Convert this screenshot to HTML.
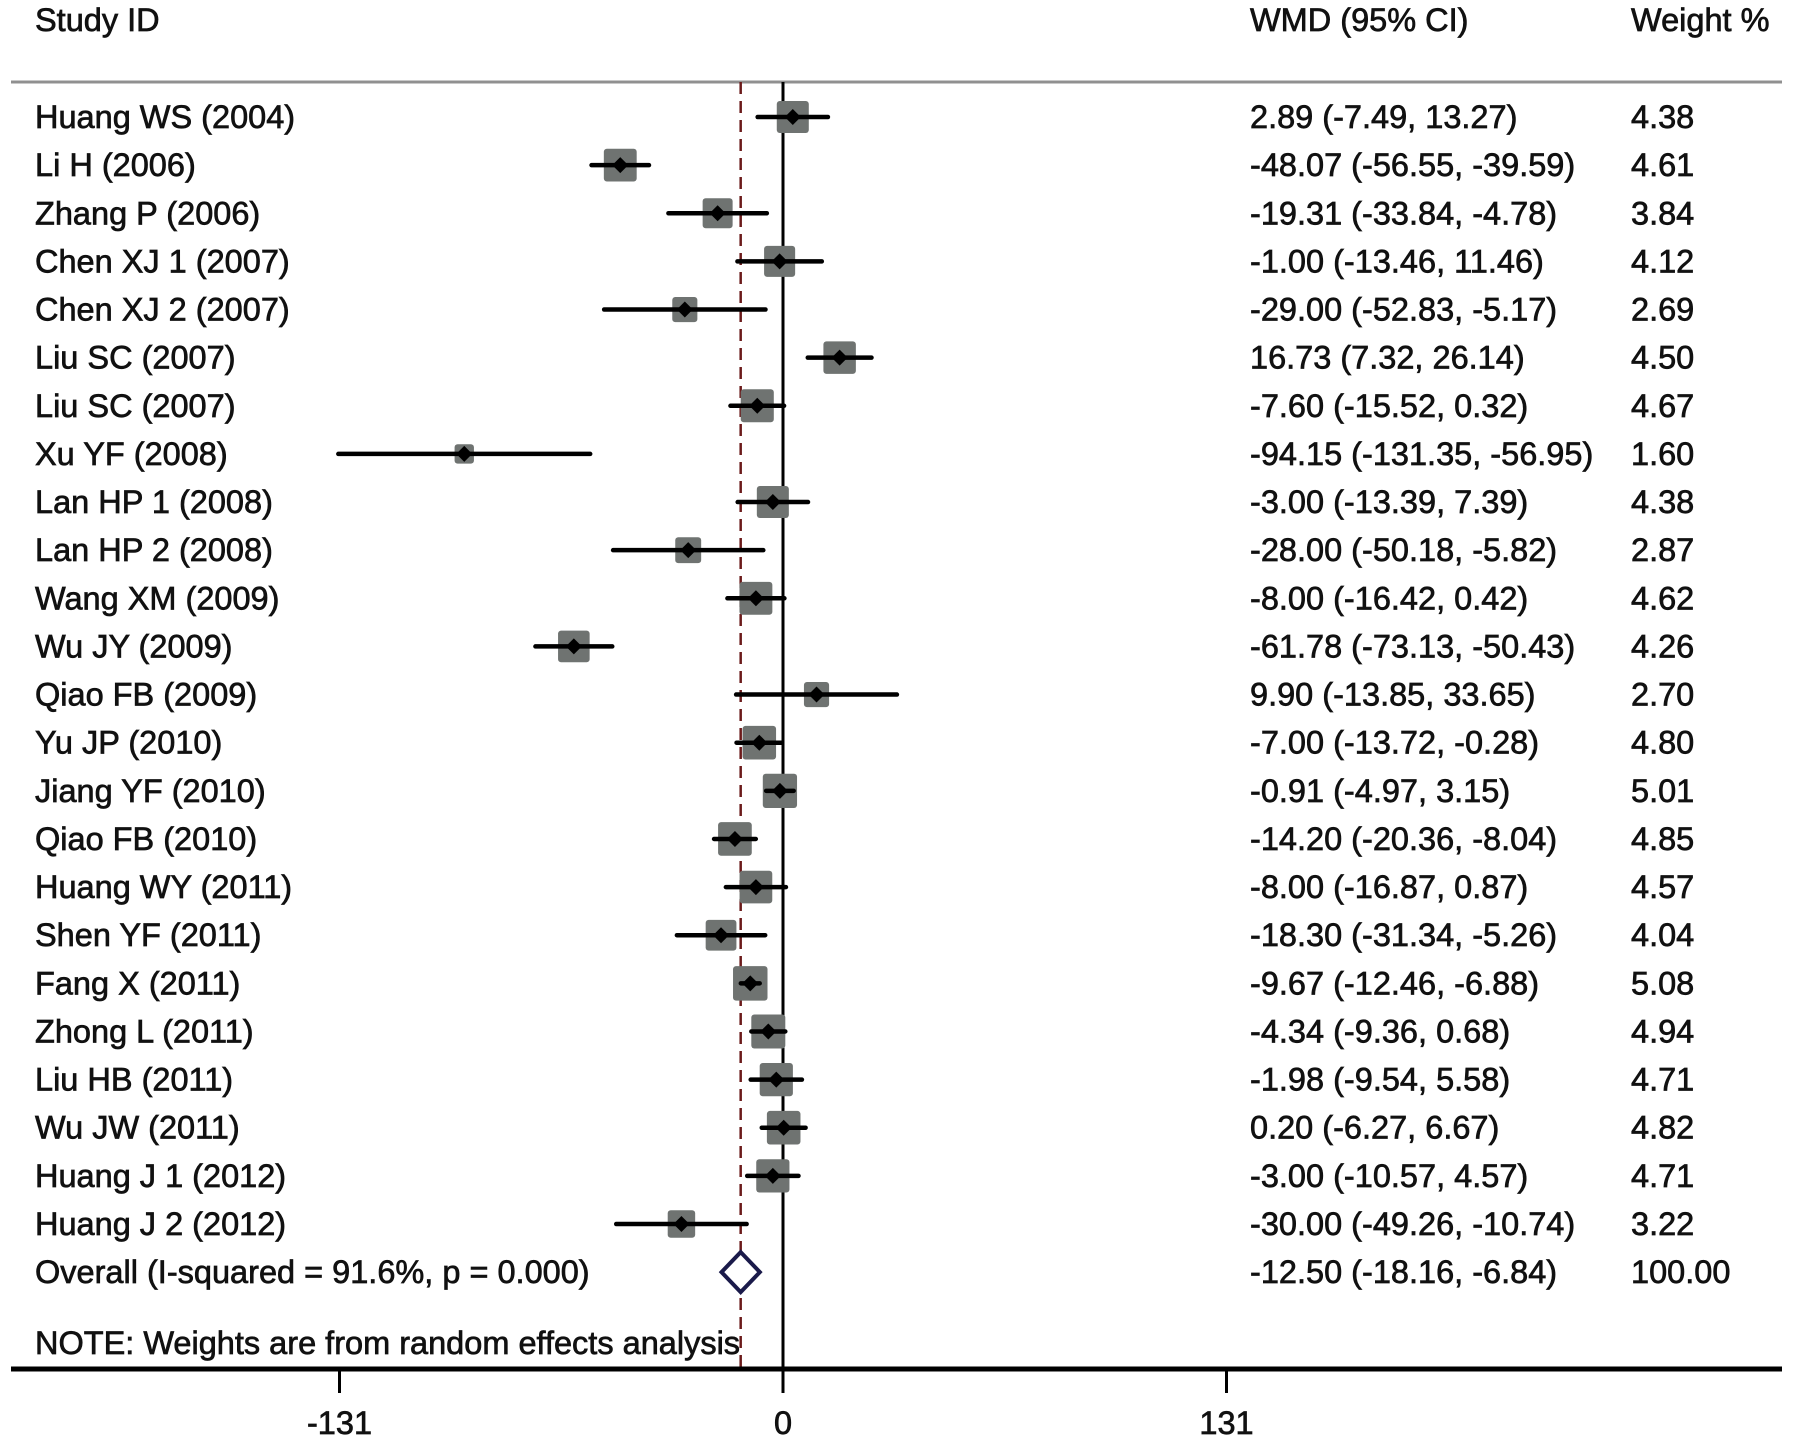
<!DOCTYPE html>
<html><head><meta charset="utf-8"><style>
html,body{margin:0;padding:0;background:#fff}
svg text{font-family:"Liberation Sans",Arial,sans-serif;font-size:32.5px;fill:#111;stroke:#111;stroke-width:0.7}
</style></head><body>
<svg id="chart" width="1795" height="1447" viewBox="0 0 1795 1447" xmlns="http://www.w3.org/2000/svg">
<text x="35" y="31">Study ID</text>
<text x="1250" y="31">WMD (95% CI)</text>
<text x="1631" y="31">Weight %</text>
<line x1="11" y1="82" x2="1782" y2="82" stroke="#909090" stroke-width="3"/>
<g id="marks"></g>
<line x1="11" y1="1369" x2="1782" y2="1369" stroke="#000" stroke-width="5"/>
<g id="ticks"></g>
<text x="35" y="1354">NOTE: Weights are from random effects analysis</text>
</svg>
<script>
const studies=["Huang WS (2004)","Li H (2006)","Zhang P (2006)","Chen XJ 1 (2007)","Chen XJ 2 (2007)","Liu SC (2007)","Liu SC (2007)","Xu YF (2008)","Lan HP 1 (2008)","Lan HP 2 (2008)","Wang XM (2009)","Wu JY (2009)","Qiao FB (2009)","Yu JP (2010)","Jiang YF (2010)","Qiao FB (2010)","Huang WY (2011)","Shen YF (2011)","Fang X (2011)","Zhong L (2011)","Liu HB (2011)","Wu JW (2011)","Huang J 1 (2012)","Huang J 2 (2012)"];
const est=[2.89,-48.07,-19.31,-1.00,-29.00,16.73,-7.60,-94.15,-3.00,-28.00,-8.00,-61.78,9.90,-7.00,-0.91,-14.20,-8.00,-18.30,-9.67,-4.34,-1.98,0.20,-3.00,-30.00];
const lo=[-7.49,-56.55,-33.84,-13.46,-52.83,7.32,-15.52,-131.35,-13.39,-50.18,-16.42,-73.13,-13.85,-13.72,-4.97,-20.36,-16.87,-31.34,-12.46,-9.36,-9.54,-6.27,-10.57,-49.26];
const hi=[13.27,-39.59,-4.78,11.46,-5.17,26.14,0.32,-56.95,7.39,-5.82,0.42,-50.43,33.65,-0.28,3.15,-8.04,0.87,-5.26,-6.88,0.68,5.58,6.67,4.57,-10.74];
const weights=[4.38,4.61,3.84,4.12,2.69,4.50,4.67,1.60,4.38,2.87,4.62,4.26,2.70,4.80,5.01,4.85,4.57,4.04,5.08,4.94,4.71,4.82,4.71,3.22];
const overall=[-12.50,-18.16,-6.84];
const overallLabel="Overall  (I-squared = 91.6%, p = 0.000)";
const tickVals=[-131,0,131];
const NS="http://www.w3.org/2000/svg";
const X=v=>783+v*(443.5/131);
const Y=i=>117+i*48.13;
const fmt=v=>v.toFixed(2);
const g=document.getElementById('marks');
function mk(t,a,p){const e=document.createElementNS(NS,t);for(const k in a)e.setAttribute(k,a[k]);(p||g).appendChild(e);return e;}
let zl=mk('line',{x1:X(0),y1:82,x2:X(0),y2:1369,stroke:'#000','stroke-width':3});


let dl=mk('line',{x1:X(overall[0]),y1:82,x2:X(overall[0]),y2:1369,stroke:'#6b1a1a','stroke-width':2.5,'stroke-dasharray':'12 7'});


studies.forEach((s,i)=>{
  const y=Y(i);
  let t=mk('text',{x:35,y:y+11});t.textContent=s;
  
  
  const side=15.3*Math.sqrt(weights[i]);
  let sq=mk('rect',{x:X(est[i])-side/2,y:y-side/2,width:side,height:side,rx:3,fill:'#6f7371'});
  
  
  let ci=mk('line',{x1:X(lo[i]),y1:y,x2:X(hi[i]),y2:y,stroke:'#000','stroke-width':4.5,'stroke-linecap':'round'});
  
  
  const cx=X(est[i]);
  let pt=mk('polygon',{points:`${cx},${y-8} ${cx+8},${y} ${cx},${y+8} ${cx-8},${y}`,fill:'#000'});
  
  
  let w=mk('text',{x:1250,y:y+11});w.textContent=`${fmt(est[i])} (${fmt(lo[i])}, ${fmt(hi[i])})`;
  
  
  let wt=mk('text',{x:1631,y:y+11});wt.textContent=fmt(weights[i]);
  
  
});
const oy=Y(studies.length);
let ol=mk('text',{x:35,y:oy+11});ol.textContent=overallLabel;


let dm=mk('polygon',{points:`${X(overall[1])},${oy} ${X(overall[0])},${oy-20} ${X(overall[2])},${oy} ${X(overall[0])},${oy+20}`,fill:'#fff',stroke:'#1a1a4a','stroke-width':4});


let ow=mk('text',{x:1250,y:oy+11});ow.textContent=`${fmt(overall[0])} (${fmt(overall[1])}, ${fmt(overall[2])})`;


let ot=mk('text',{x:1631,y:oy+11});ot.textContent="100.00";


const tg=document.getElementById('ticks');
tickVals.forEach(v=>{
  let l=mk('line',{x1:X(v),y1:1369,x2:X(v),y2:1393,stroke:'#000','stroke-width':3},tg);
  
  
  let t=mk('text',{x:X(v),y:1434,'text-anchor':'middle'},tg);t.textContent=String(v);
  
  
});
</script>
</body></html>
